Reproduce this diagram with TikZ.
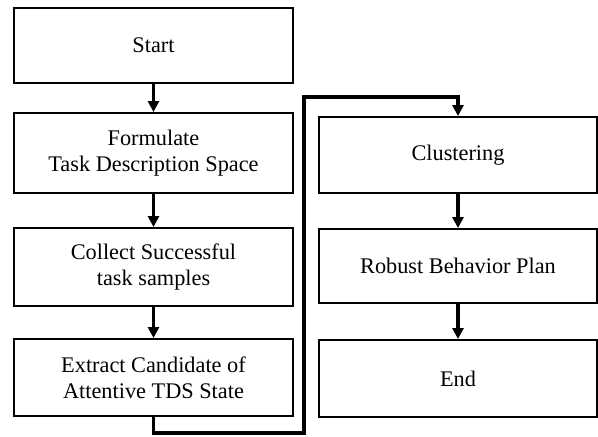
\documentclass[tikz,border=0pt]{standalone}
\usepackage{fontspec}
\setmainfont{Liberation Serif}
\usetikzlibrary{arrows.meta}
\begin{document}
\begin{tikzpicture}[x=1pt,y=-1pt,
  stepbox/.style={draw, line width=2pt, rectangle, align=center,
    font=\fontsize{22.3}{26}\selectfont, inner sep=0pt},
  leftbox/.style={stepbox, minimum width=279pt},
  rightbox/.style={stepbox, minimum width=278pt},
  flow/.style={line width=3.2pt, -{Triangle[length=11pt,width=11pt]}}]
\useasboundingbox (0,0) rectangle (598,437);

% left column
\node[leftbox, minimum height=75pt] (start) at (153.5,45.5) {Start};
\node[leftbox, minimum height=80pt] (formulate) at (153.5,153) {Formulate\\Task Description Space};
\node[leftbox, minimum height=78pt] (collect) at (153.5,267) {Collect Successful\\task samples};
\node[leftbox, minimum height=77pt] (extract) at (153.5,377.5) {Extract Candidate of\\Attentive TDS State};

% right column
\node[rightbox, minimum height=76pt] (cluster) at (458,155) {Clustering};
\node[rightbox, minimum height=74pt] (robust) at (458,266) {Robust Behavior Plan};
\node[rightbox, minimum height=77pt] (end) at (458,378.5) {End};

\coordinate (b1) at (153.5,433);
\coordinate (b2) at (304,433);
\coordinate (t1) at (304,97);
\coordinate (t2) at (458,97);

\draw[flow] (start) -- (formulate);
\draw[flow] (formulate) -- (collect);
\draw[flow] (collect) -- (extract);
\draw[flow] (extract.south) -- (b1) -- (b2) -- (t1) -- (t2) -- (cluster.north);
\draw[flow] (cluster) -- (robust);
\draw[flow] (robust) -- (end);
\end{tikzpicture}
\end{document}
